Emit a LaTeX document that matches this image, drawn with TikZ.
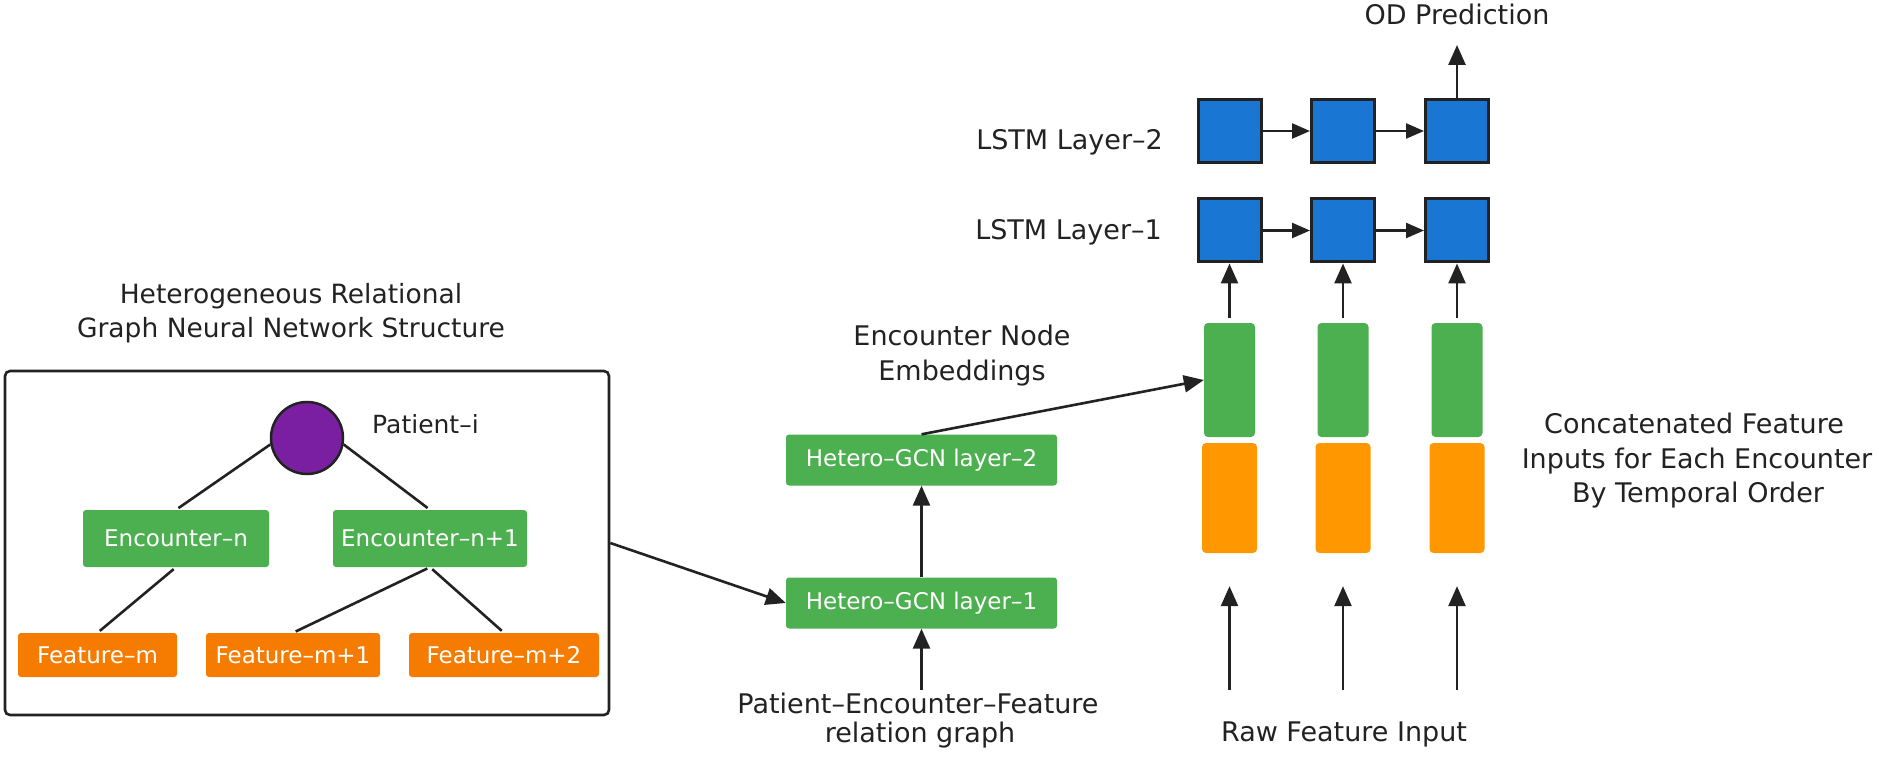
\documentclass[tikz,border=0pt]{standalone}
\usepackage{fontspec}
\setmainfont{DejaVu Sans}
\usetikzlibrary{arrows.meta}
\definecolor{gr}{HTML}{4CAF50}
\definecolor{orf}{HTML}{F57C00}
\definecolor{orb}{HTML}{FF9800}
\definecolor{bl}{HTML}{1976D2}
\definecolor{pu}{HTML}{7B1FA2}
\definecolor{lc}{HTML}{222222}
\begin{document}
\begin{tikzpicture}[x=1pt,y=-1pt,
  lbl/.style={font=\fontsize{27}{32}\selectfont, text=lc, inner sep=0pt},
  gbox/.style={fill=gr, rounded corners=3pt, text=white, font=\fontsize{23}{28}\selectfont, inner sep=0pt},
  obox/.style={fill=orf, rounded corners=3pt, text=white, font=\fontsize{23}{28}\selectfont, inner sep=0pt, minimum height=44pt},
  gbar/.style={fill=gr, rounded corners=4pt, minimum width=51pt, minimum height=114pt, inner sep=0pt},
  obar/.style={fill=orb, rounded corners=4pt, minimum width=55pt, minimum height=110pt, inner sep=0pt},
  lstm/.style={fill=bl, draw=lc, line width=3pt, minimum size=63pt, inner sep=0pt},
  ln/.style={draw=lc, line width=2.6pt},
  arr/.style={ln, -{Triangle[length=20pt,width=17pt]}},
  sarr/.style={draw=lc, line width=2.4pt, -{Triangle[length=18pt,width=15pt]}}
]
\useasboundingbox (0,0) rectangle (1879,759);

% left structure
\node[lbl, anchor=base, font=\fontsize{26.5}{32}\selectfont] (t1) at (291,303) {Heterogeneous Relational};
\node[lbl, anchor=base, font=\fontsize{26.5}{32}\selectfont] (t2) at (291,337) {Graph Neural Network Structure};
\node[draw=lc, line width=2.6pt, rounded corners=5pt, minimum width=604pt, minimum height=344pt, inner sep=0pt] (frame) at (307,543) {};
\node[circle, fill=pu, draw=lc, line width=2.5pt, minimum size=72pt, inner sep=0pt] (pat) at (307,438) {};
\node[lbl, anchor=base west, font=\fontsize{25}{30}\selectfont] (patl) at (372,433) {Patient–i};
\node[gbox, minimum width=186pt, minimum height=57pt] (e1) at (176,538.5) {Encounter–n};
\node[gbox, minimum width=194pt, minimum height=57pt] (e2) at (430,538.5) {Encounter–n+1};
\node[obox, minimum width=159pt] (f1) at (97.5,655) {Feature–m};
\node[obox, minimum width=174pt] (f2) at (293,655) {Feature–m+1};
\node[obox, minimum width=190pt] (f3) at (504,655) {Feature–m+2};
\draw[ln, shorten >=3pt] (pat.190) -- (e1.north);
\draw[ln, shorten >=3pt] (pat.350) -- (e2.north);
\draw[ln, shorten >=3pt, shorten <=3pt] (e1.south) -- (f1.north);
\draw[ln, shorten >=3pt, shorten <=3pt] (e2.south) -- (f2.north);
\draw[ln, shorten >=3pt, shorten <=3pt] (e2.south) -- (f3.north);

% GCN
\node[gbox, minimum width=271pt, minimum height=51pt] (g1) at (921.5,603) {Hetero–GCN layer–1};
\node[gbox, minimum width=271pt, minimum height=51pt] (g2) at (921.5,460) {Hetero–GCN layer–2};
\draw[arr] (frame.east) -- (g1.west);
\draw[arr] (g1.north) -- (g2.south);
\coordinate (pin) at (921.5,690);
\draw[arr] (pin) -- (g1.south);
\node[lbl, anchor=base] (pl1) at (918,713) {Patient–Encounter–Feature};
\node[lbl, anchor=base] (pl2) at (920,742) {relation graph};
\node[lbl, anchor=base] (em1) at (962,345) {Encounter Node};
\node[lbl, anchor=base] (em2) at (962,380) {Embeddings};

% bars
\foreach \i/\x in {1/1229.5,2/1343,3/1457}{
  \node[gbar] (gb\i) at (\x,380) {};
  \node[obar] (ob\i) at (\x,498) {};
  \node[lstm] (la\i) at (\x,230.5) {};
  \node[lstm] (lb\i) at (\x,131) {};
  \coordinate (r\i) at (\x,690);
  \draw[arr, shorten >=33pt] (r\i) -- (ob\i.south);
  \draw[arr, shorten <=5pt] (gb\i.north) -- (la\i.south);
}
\draw[arr] (g2.north) -- (gb1.west);
\draw[sarr] (la1.east) -- (la2.west);
\draw[sarr] (la2.east) -- (la3.west);
\draw[sarr] (lb1.east) -- (lb2.west);
\draw[sarr] (lb2.east) -- (lb3.west);
\coordinate (odp) at (1457,45);
\draw[arr] (lb3.north) -- (odp);
\node[lbl, anchor=base] (odl) at (1457,25) {OD Prediction};
\node[lbl, anchor=base east] (ll2) at (1163,150) {LSTM Layer–2};
\node[lbl, anchor=base east] (ll1) at (1162,240) {LSTM Layer–1};
\node[lbl, anchor=base] (raw) at (1344,741) {Raw Feature Input};
\node[lbl, anchor=base] (c1) at (1694,433) {Concatenated Feature};
\node[lbl, anchor=base] (c2) at (1697,468) {Inputs for Each Encounter};
\node[lbl, anchor=base] (c3) at (1698,502) {By Temporal Order};
\end{tikzpicture}
\end{document}
